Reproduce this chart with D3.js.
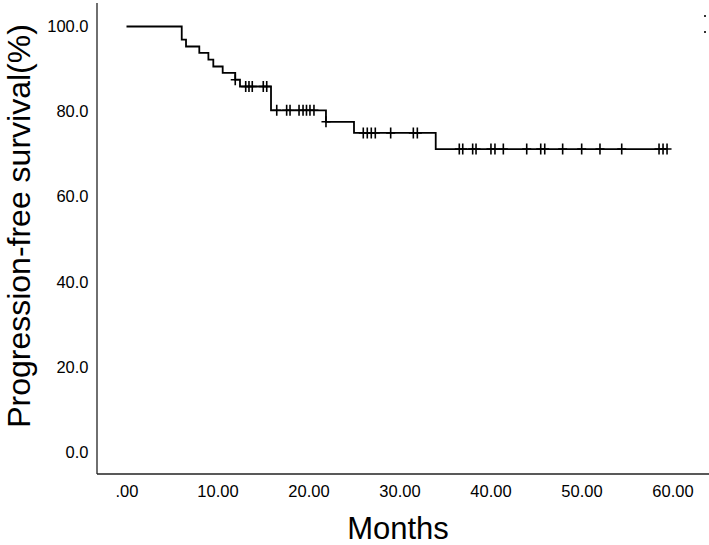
<!DOCTYPE html>
<html>
<head>
<meta charset="utf-8">
<script src="https://cdn.jsdelivr.net/npm/d3@7"></script>
<style>
  html, body { margin: 0; padding: 0; background: #fff; }
  svg { display: block; font-family: "Liberation Sans", Arial, sans-serif; }
</style>
</head>
<body>
<div id="chart"></div>
<script>
  // Kaplan-Meier steps (months, % progression-free)
  var stepTimes = [0, 6.07, 6.54, 8.0, 9.0, 9.54, 10.57, 11.95, 12.47, 15.88, 21.92, 25.0, 33.98];
  var stepSurv = [100, 96.9, 95.3, 93.8, 92.2, 90.6, 89.1, 87.5, 85.9, 80.3, 77.6, 75.0, 71.2];

  // censored observations (months)
  var censorTimes = [11.95, 13.10, 13.46, 13.82, 15.03, 15.41,
    16.51, 17.60, 17.97, 18.96, 19.40, 19.78, 20.16, 20.60,
    21.92,
    26.02, 26.46, 26.90, 27.34, 29.03, 31.52, 31.96,
    36.57, 36.95, 38.04, 38.41, 40.05, 40.49, 41.41, 43.98, 45.52, 45.96,
    47.93, 50.02, 52.03, 54.42, 58.52, 58.96, 59.40];

  var xTicks = [0, 10, 20, 30, 40, 50, 60];
  var yTicks = [0, 20, 40, 60, 80, 100];

  var width = 709,
    height = 545;

  var svg = d3.select('#chart').append('svg')
    .attr('width', width)
    .attr('height', height);

  var x = d3.scaleLinear().domain([0, 60]).range([126.5, 672.5]);
  var y = d3.scaleLinear().domain([0, 100]).range([452, 26.5]);

  var axisX = 97, axisY = 474;

  // axis lines (they run past the data range like in the original)
  svg.append('line')
    .attr('x1', axisX).attr('x2', axisX)
    .attr('y1', 3).attr('y2', axisY)
    .attr('stroke', '#222').attr('stroke-width', 1.3);
  svg.append('line')
    .attr('x1', axisX).attr('x2', width)
    .attr('y1', axisY).attr('y2', axisY)
    .attr('stroke', '#222').attr('stroke-width', 1.3);

  var gx = svg.append('g')
    .attr('transform', 'translate(0,' + axisY + ')')
    .call(d3.axisBottom(x).tickValues(xTicks).tickSize(0).tickPadding(11)
      .tickFormat(function (d) { return d === 0 ? '.00' : d.toFixed(2); }));
  gx.select('.domain').remove();
  gx.selectAll('text').attr('font-size', 16.5).attr('fill', '#000')
    .style('font-family', '"Liberation Sans", Arial, sans-serif');

  var gy = svg.append('g')
    .attr('transform', 'translate(' + axisX + ',0)')
    .call(d3.axisLeft(y).tickValues(yTicks).tickSize(0).tickPadding(8.5)
      .tickFormat(function (d) { return d.toFixed(1); }));
  gy.select('.domain').remove();
  gy.selectAll('text').attr('font-size', 16.5).attr('fill', '#000')
    .style('font-family', '"Liberation Sans", Arial, sans-serif');

  // survival at a given time (step after)
  function survAt(t) {
    var s = stepSurv[0];
    for (var i = 0; i < stepTimes.length; i++) {
      if (stepTimes[i] <= t) s = stepSurv[i];
    }
    return s;
  }

  var lastT = d3.max(censorTimes);
  var pts = stepTimes.map(function (t, i) { return [t, stepSurv[i]]; });
  pts.push([lastT, stepSurv[stepSurv.length - 1]]);

  var line = d3.line()
    .x(function (d) { return x(d[0]); })
    .y(function (d) { return y(d[1]); })
    .curve(d3.curveStepAfter);

  svg.append('path')
    .datum(pts)
    .attr('d', line)
    .attr('fill', 'none')
    .attr('stroke', '#000')
    .attr('stroke-width', 1.8);

  // censor marks as "+"
  svg.append('g').selectAll('path')
    .data(censorTimes)
    .enter()
    .append('path')
    .attr('d', function (t) {
      var cx = x(t), cy = y(survAt(t));
      return 'M' + (cx - 4.5) + ',' + cy + 'H' + (cx + 4.5) +
        'M' + cx + ',' + (cy - 5.5) + 'V' + (cy + 5.5);
    })
    .attr('stroke', '#000')
    .attr('stroke-width', 1.6)
    .attr('fill', 'none');

  // axis titles
  svg.append('text')
    .attr('x', 398)
    .attr('y', 539)
    .attr('text-anchor', 'middle')
    .attr('font-size', 31)
    .attr('fill', '#000')
    .text('Months');

  svg.append('text')
    .attr('transform', 'translate(30,226) rotate(-90)')
    .attr('text-anchor', 'middle')
    .attr('font-size', 32)
    .attr('fill', '#000')
    .text('Progression-free survival(%)');

  // stray dots at the top-right edge of the original image
  svg.append('rect').attr('x', 704).attr('y', 15).attr('width', 2).attr('height', 2).attr('fill', '#333');
  svg.append('rect').attr('x', 704).attr('y', 31).attr('width', 2).attr('height', 2).attr('fill', '#333');
</script>
</body>
</html>
